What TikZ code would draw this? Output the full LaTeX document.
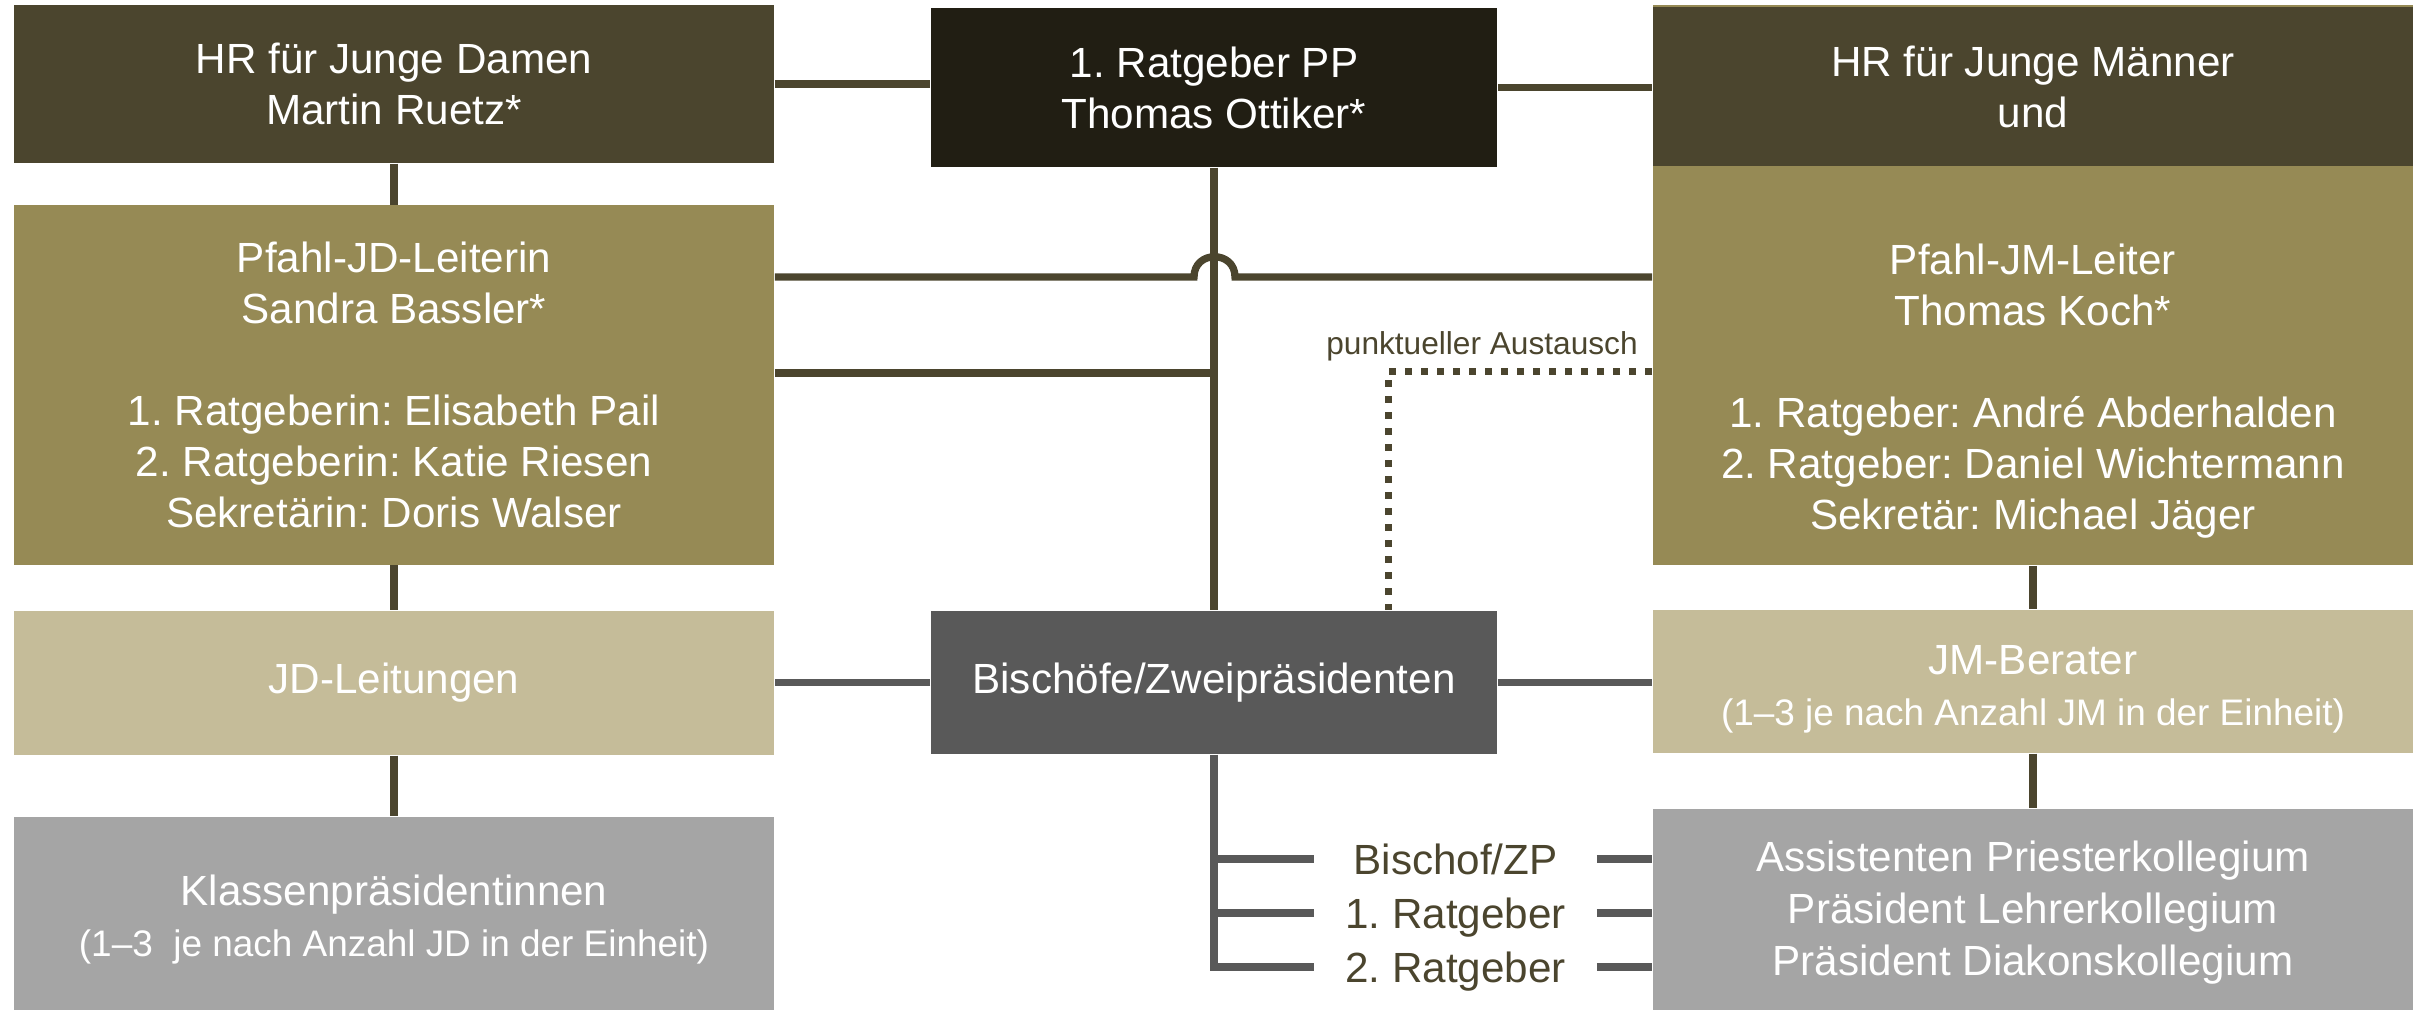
\documentclass[tikz,border=0pt]{standalone}
\usepackage{fontspec}
\setmainfont{Liberation Sans}
\frenchspacing

\definecolor{hrbrown}{HTML}{4B452E}
\definecolor{ppblack}{HTML}{211E13}
\definecolor{olive}{HTML}{968A55}
\definecolor{tan}{HTML}{C5BC99}
\definecolor{bgray}{HTML}{595959}
\definecolor{lgray}{HTML}{A5A5A5}
\definecolor{linebrown}{HTML}{4B452E}

\newcommand\boxfont{\fontsize{12pt}{14.5pt}\selectfont}
\newcommand\listfont{\fontsize{12pt}{14.8pt}\selectfont}
\newcommand\smallfont{\fontsize{10.5pt}{13pt}\selectfont}

\begin{document}
\begin{tikzpicture}[x=0.01cm, y=-0.01cm,
  every node/.style={inner sep=0pt, align=center},
  box/.style={fill=#1, text=white, font=\boxfont},
  boxtext/.style={text=white, font=\boxfont},
  wide/.style={minimum width=7.6cm},
  mid/.style={minimum width=5.66cm},
  link/.style={draw=linebrown, line width=0.073cm},
  graylink/.style={draw=bgray, line width=0.075cm},
  dotlink/.style={draw=linebrown, line width=0.07cm, dash pattern=on 0.07cm off 0.09cm},
  lbl/.style={font=\boxfont, text=linebrown, minimum width=2.81cm, text height=0.3cm, text depth=0cm}]

  \useasboundingbox (0,0) rectangle (2430,1010);

  % left column
  \node[box=hrbrown, wide, minimum height=1.58cm] (hrjd) at (394,84) {HR für Junge Damen\\Martin Ruetz*};
  \node[box=olive, wide, minimum height=3.59cm] (pfjd) at (394,385) {Pfahl-JD-Leiterin\\Sandra Bassler*\\[14.5pt]1. Ratgeberin: Elisabeth Pail\\2. Ratgeberin: Katie Riesen\\Sekretärin: Doris Walser};
  \node[box=tan, wide, minimum height=1.44cm] (jdleit) at (394,683) {JD-Leitungen};
  \node[box=lgray, wide, minimum height=1.93cm] (klassen) at (394,913.5) {};
  \node[boxtext] (klassentext) at (394,920) {Klassenpräsidentinnen\\{\smallfont (1–3~ je nach Anzahl JD in der Einheit)}};

  % middle
  \node[box=ppblack, mid, minimum height=1.59cm] (pp) at (1214,87.5) {1. Ratgeber PP\\Thomas Ottiker*};
  \node[box=bgray, mid, minimum height=1.43cm] (bischof) at (1214,682.5) {Bischöfe/Zweipräsidenten};

  % right column
  \node[box=olive, wide, minimum height=5.6cm] (jmback) at (2033,285) {};
  \node[box=hrbrown, wide, minimum height=1.59cm] (hrjm) at (2033,86.5) {HR für Junge Männer\\und};
  \node[boxtext] (jmtext) at (2033,391) {Pfahl-JM-Leiter\\Thomas Koch*\\[14.5pt]1. Ratgeber: André Abderhalden\\2. Ratgeber: Daniel Wichtermann\\Sekretär: Michael Jäger};
  \node[box=tan, wide, minimum height=1.43cm] (jmber) at (2033,681.5) {};
  \node[boxtext] (jmbertext) at (2033,689) {JM-Berater\\{\smallfont (1–3 je nach Anzahl JM in der Einheit)}};
  \node[box=lgray, wide, minimum height=2.01cm] (assist) at (2033,909.5) {};
  \node[boxtext, font=\listfont] (assisttext) at (2033,913) {Assistenten Priesterkollegium\\Präsident Lehrerkollegium\\Präsident Diakonskollegium};

  % bischof/zp group
  \node[lbl] (lbbischof) at (1455.5,859) {Bischof/ZP};
  \node[lbl] (lberst) at (1455.5,913) {1. Ratgeber};
  \node[lbl] (lbzweit) at (1455.5,967) {2. Ratgeber};

  \node[font=\fontsize{9pt}{11pt}\selectfont, text=linebrown, anchor=base] (austausch) at (1482,355) {punktueller Austausch};

  \coordinate (jumpA) at (1194,277);
  \coordinate (jumpB) at (1235,277);
  \coordinate (jdlink) at (1214,373);
  \coordinate (dotknee) at (1388,372);

  \draw[link] (hrjd.east) -- (hrjd.east -| pp.west);
  \draw[link] (pp.east) -- (pp.east -| hrjm.west);
  \draw[link] (hrjd.south) -- (pfjd.north);
  \draw[link] (pfjd.south) -- (jdleit.north);
  \draw[link] (jdleit.south) -- (klassen.north);
  \draw[link] (jmback.south) -- (jmber.north);
  \draw[link] (jmber.south) -- (assist.north);
  \draw[link] (pp.south) -- (bischof.north);
  \draw[link] (pfjd.east |- jumpA) -- (jumpA) .. controls +(0,-27) and +(0,-27) .. (jumpB) -- (jumpB -| jmback.west);
  \draw[link] (pfjd.east |- jdlink) -- (jdlink);
  \draw[dotlink] (jmback.west |- dotknee) -- (dotknee) -- (dotknee |- bischof.north);

  \draw[graylink] (bischof.west) -- (bischof.west -| jdleit.east);
  \draw[graylink] (bischof.east) -- (bischof.east -| jmber.west);
  \draw[graylink] (bischof.south) -- (bischof.south |- lbzweit.west) -- (lbzweit.west);
  \draw[graylink] (bischof.south |- lbbischof.west) -- (lbbischof.west);
  \draw[graylink] (bischof.south |- lberst.west) -- (lberst.west);
  \foreach \lb in {lbbischof,lberst,lbzweit}
    \draw[graylink] (\lb.east) -- (\lb.east -| assist.west);
\end{tikzpicture}
\end{document}
